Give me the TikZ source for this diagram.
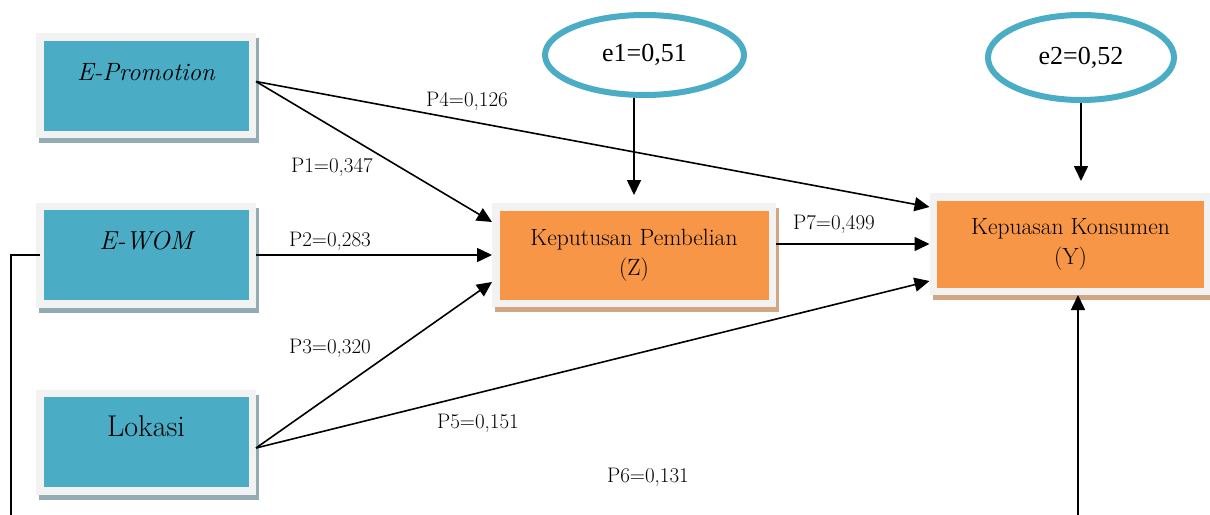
\documentclass[tikz,border=0pt]{standalone}
\usepackage{fontspec}
\newfontfamily\timesfont{Liberation Serif}
\usetikzlibrary{shapes.geometric,shadows,arrows.meta}

\definecolor{tealfill}{HTML}{4BACC6}
\definecolor{orangefill}{HTML}{F79646}
\definecolor{framegrey}{HTML}{F2F2F2}
\definecolor{tealshade}{HTML}{93ABB3}
\definecolor{orangeshade}{HTML}{D1A683}

\begin{document}
\begin{tikzpicture}[x=1pt,y=-1pt]
 \tikzset{varbox/.style = {shape=rectangle,draw=framegrey,line width=7.5pt,fill=tealfill,
   minimum width=212.5pt,minimum height=97.5pt,inner sep=0pt,text height=20pt,text depth=31pt,
   font=\fontsize{26}{30}\selectfont,
   drop shadow={shadow xshift=3pt,shadow yshift=-5pt,fill=tealshade,draw=tealshade,line width=7.5pt,opacity=1}}}
 \tikzset{depbox/.style = {shape=rectangle,draw=framegrey,line width=7.5pt,fill=orangefill,
   inner sep=0pt,align=center,font=\fontsize{23.5}{30}\selectfont,
   drop shadow={shadow xshift=3pt,shadow yshift=-5pt,fill=orangeshade,draw=orangeshade,line width=7.5pt,opacity=1}}}
 \tikzset{errnode/.style = {shape=ellipse,draw=tealfill,line width=6pt,inner sep=0pt,
   font=\timesfont\fontsize{26}{30}\selectfont}}
 \tikzset{plabel/.style = {anchor=base,inner sep=0pt,font=\fontsize{21}{24}\selectfont}}
 \tikzset{edge/.style = {-{Triangle[length=15pt,width=14pt]},line width=1.6pt}}
 \useasboundingbox (0,0) rectangle (1210,514);
 \clip (0,0) rectangle (1210,514);
 % variables
 \node[varbox] (epromo) at (146,85.5) {\fontsize{25}{28}\selectfont\itshape E-Promotion};
 \node[varbox] (ewom) at (146,255) {\itshape E-WOM};
 \node[varbox] (lokasi) at (146,442) {\fontsize{30}{30}\selectfont Lokasi};
 \node[depbox,minimum width=276.5pt,minimum height=96.5pt] (kp) at (634,255) {Keputusan Pembelian\\(Z)};
 \node[depbox,minimum width=274.5pt,minimum height=94.5pt] (kk) at (1070.5,244) {Kepuasan Konsumen\\(Y)};
 \node[errnode,minimum width=199pt,minimum height=80pt] (e1) at (644.5,55) {e1=0,51};
 \node[errnode,minimum width=186pt,minimum height=85pt] (e2) at (1081,57.5) {e2=0,52};

 % paths
 \draw[edge] ([yshift=4pt]epromo.east) -- ([yshift=33pt]kp.west);
 \draw[edge] ([yshift=4pt]epromo.east) -- ([yshift=37pt]kk.west);
 \draw[edge] (ewom.east) -- (kp.west);
 \draw[edge] ([yshift=-6pt]lokasi.east) -- ([yshift=-27pt]kp.west);
 \draw[edge] ([yshift=-6pt]lokasi.east) -- ([yshift=-37pt]kk.west);
 \draw[edge] (kp.east |- kk.west) -- (kk.west);
 \draw[edge,shorten >=8pt] (e1.south -| kp.north) -- (kp.north);
 \draw[edge,shorten >=12pt] (e2.south) -- (e2.south |- kk.north);
 \coordinate (fbl) at (11,530);
 \coordinate (fbr) at (1078,530);
 \draw[edge] ([xshift=4pt]ewom.west) -| (fbl) -- (fbr) -- (fbr |- kk.south);

 % coefficients
 \node[plabel] (p1) at (332,172) {P1=0,347};
 \node[plabel] (p2) at (330,246) {P2=0,283};
 \node[plabel] (p3) at (330,353) {P3=0,320};
 \node[plabel] (p4) at (467,106) {P4=0,126};
 \node[plabel] (p5) at (478,428) {P5=0,151};
 \node[plabel] (p6) at (648,482) {P6=0,131};
 \node[plabel] (p7) at (834,229) {P7=0,499};
\end{tikzpicture}
\end{document}
